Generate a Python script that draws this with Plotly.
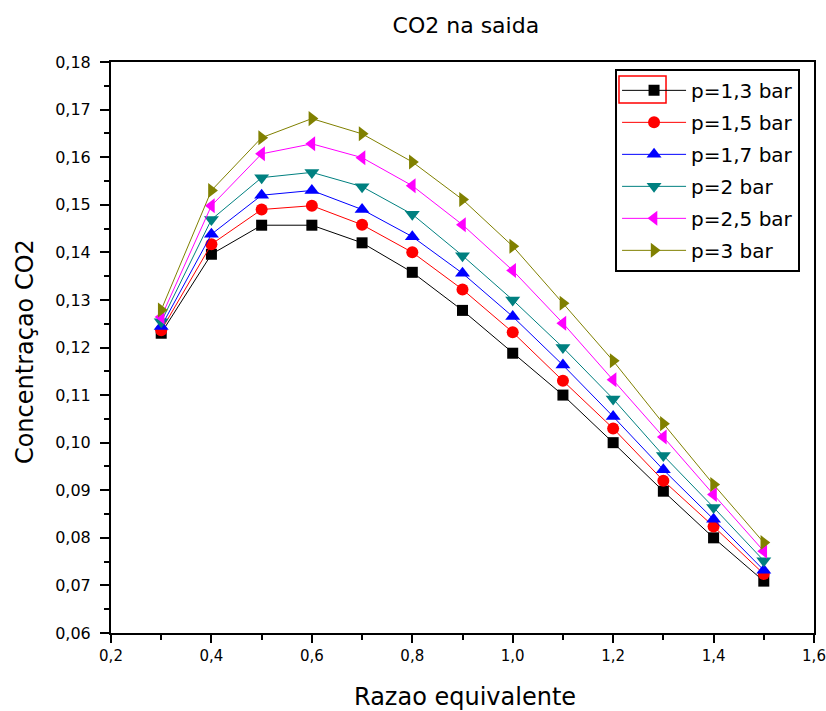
import plotly.graph_objects as go

x_vals = [0.3, 0.4, 0.5, 0.6, 0.7, 0.8, 0.9, 1.0, 1.1, 1.2, 1.3, 1.4, 1.5]

p13 = [0.1230, 0.1396, 0.1457, 0.1457, 0.1420, 0.1358, 0.1278, 0.1188, 0.1100, 0.1000, 0.0898, 0.0800, 0.0709]
p15 = [0.1236, 0.1417, 0.1490, 0.1498, 0.1458, 0.1400, 0.1322, 0.1232, 0.1130, 0.1030, 0.0920, 0.0824, 0.0724]
p17 = [0.1244, 0.1438, 0.1520, 0.1530, 0.1490, 0.1433, 0.1356, 0.1265, 0.1163, 0.1055, 0.0943, 0.0839, 0.0732]
p20 = [0.1254, 0.1469, 0.1557, 0.1568, 0.1538, 0.1480, 0.1393, 0.1300, 0.1200, 0.1092, 0.0973, 0.0864, 0.0752]
p25 = [0.1264, 0.1498, 0.1607, 0.1628, 0.1599, 0.1540, 0.1458, 0.1362, 0.1251, 0.1132, 0.1012, 0.0891, 0.0772]
p30 = [0.1279, 0.1530, 0.1641, 0.1681, 0.1649, 0.1590, 0.1511, 0.1413, 0.1293, 0.1172, 0.1040, 0.0912, 0.0790]

names = ["p=1,3 bar", "p=1,5 bar", "p=1,7 bar", "p=2 bar", "p=2,5 bar", "p=3 bar"]
series = [p13, p15, p17, p20, p25, p30]
colors = ["#000000", "#FF0000", "#0000FF", "#008080", "#FF00FF", "#808000"]
symbols = ["square", "circle", "triangle-up", "triangle-down", "triangle-left", "triangle-right"]
sizes = [11, 12, 13, 13, 13, 13]

font = "DejaVu Sans, Verdana, sans-serif"

fig = go.Figure()
for i, (n, s, c, sym, sz) in enumerate(zip(names, series, colors, symbols, sizes)):
    fig.add_trace(go.Scatter(
        x=x_vals, y=s, name=n, mode="lines+markers", legendgroup=f"g{i}",
        line=dict(color=c, width=1),
        marker=dict(symbol=sym, size=sz, color=c, line=dict(width=0)),
    ))

axis_common = dict(
    showgrid=False, zeroline=False, showline=True, linecolor="black", linewidth=2,
    mirror=True, ticks="outside", tickcolor="black", tickwidth=1.5, automargin=False,
    ticklabeloverflow="allow",
)

fig.update_layout(
    template="none",
    width=826, height=711,
    margin=dict(l=111, r=12, t=62, b=78),
    paper_bgcolor="white", plot_bgcolor="white",
    separators=",.",
    title=dict(text="CO2 na saida", x=0.564, xanchor="center", y=0.965, yanchor="middle",
               font=dict(family=font, size=22, color="black")),
    xaxis=dict(range=[0.2, 1.6], dtick=0.2, tick0=0.2, tickformat=".1f", ticklen=8,
               tickfont=dict(family=font, size=15, color="black"),
               minor=dict(dtick=0.1, tick0=0.2, ticks="outside", ticklen=5, tickcolor="black", tickwidth=1.5),
               **axis_common),
    yaxis=dict(range=[0.06, 0.18], dtick=0.01, tick0=0.06, tickformat=".2f", ticklen=9,
               ticklabelstandoff=6,
               tickfont=dict(family=font, size=16, color="black"),
               minor=dict(dtick=0.005, tick0=0.06, ticks="outside", ticklen=5, tickcolor="black", tickwidth=1.5),
               **axis_common),
    legend=dict(x=0.717, y=0.988, xanchor="left", yanchor="top",
                bgcolor="rgba(0,0,0,0)", bordercolor="black", borderwidth=2,
                font=dict(family=font, size=20, color="black"),
                tracegroupgap=3, itemwidth=64),
    showlegend=True,
    annotations=[
        dict(text="Razao equivalente", xref="paper", yref="paper", x=0.5036, y=-0.112,
             showarrow=False, xanchor="center", yanchor="middle",
             font=dict(family=font, size=24, color="black")),
        dict(text="Concentraçao CO2", xref="paper", yref="paper", x=-0.1223, y=0.492,
             showarrow=False, xanchor="center", yanchor="middle", textangle=-90,
             font=dict(family=font, size=24, color="black")),
    ],
    shapes=[
        dict(type="rect", xref="paper", yref="paper", x0=0.7226, x1=0.7895, y0=0.9282, y1=0.9755,
             line=dict(color="red", width=1.5), fillcolor="rgba(0,0,0,0)"),
    ],
)

fig.write_html("out.html", config={"displayModeBar": False},
               post_script="document.body.style.margin='0';document.body.style.overflow='hidden';")
